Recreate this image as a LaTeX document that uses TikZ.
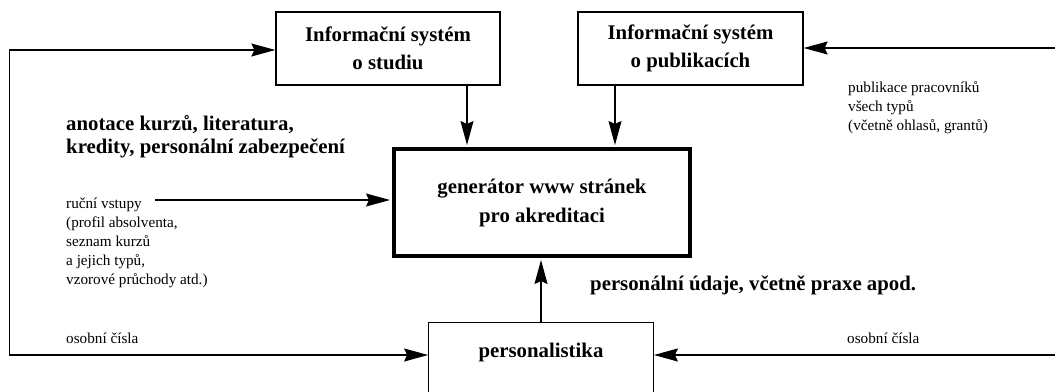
\documentclass[tikz,border=0pt]{standalone}
\usepackage{fontspec}
\setmainfont{Liberation Serif}
\usetikzlibrary{arrows.meta}
\begin{document}
\begin{tikzpicture}[x=1pt,y=-1pt,
  box/.style={draw,line width=1.3pt,minimum width=#1,align=center,inner sep=0pt},
  boxtxt/.style={font=\fontsize{20.8}{28}\selectfont\bfseries},
  bigtxt/.style={font=\fontsize{20.8}{23}\selectfont\bfseries,align=left,anchor=west,inner sep=0pt},
  smalltxt/.style={font=\fontsize{15.2}{18.9}\selectfont,align=left,anchor=west,inner sep=0pt},
  conn/.style={line width=1.3pt,-{Stealth[length=24pt,width=13pt,inset=3pt]}}]
\clip (0,0) rectangle (1055,391);
\fill[white] (0,0) rectangle (1055,391);
% boxes
\node[box=224pt,minimum height=73pt,boxtxt] (ss) at (388,48.5) {Informační systém\\o studiu};
\node[box=225pt,minimum height=73pt,boxtxt] (sp) at (690.5,48.5) {Informační systém\\o publikacích};
\node[draw,line width=4pt,minimum width=296pt,minimum height=107pt,align=center,inner sep=0pt,font=\fontsize{20.8}{29}\selectfont\bfseries] (gen) at (542,202.5) {generátor www stránek\\pro akreditaci};
\node[box=224.5pt,minimum height=130pt,anchor=north] (per) at (541,322) {};
\node[boxtxt,inner sep=0pt] (pertxt) at (541,352) {personalistika};
% free ends
\coordinate (lt) at (9.6,50);
\coordinate (lb) at (9.6,355);
\coordinate (rt) at (1056,48);
\coordinate (rb) at (1056,355);
\coordinate (rv) at (155,200);
% connectors
\draw[conn] (lb) -- (lt) -- (ss.west |- lt);
\draw[conn] (lt) -- (lb) -- (per.west |- lb);
\draw[conn] (rt) -- (sp.east |- rt);
\draw[conn] (rb) -- (per.east |- rb);
\draw[conn] (467,85) coordinate (a1) -- ([yshift=2pt]a1 |- gen.north);
\draw[conn] (615,85) coordinate (a2) -- ([yshift=2pt]a2 |- gen.north);
\draw[conn] (per.north) -- ([yshift=-2pt]per.north |- gen.south);
\draw[conn] (rv) -- ([xshift=-2pt]gen.west |- rv);
% labels
\node[bigtxt] (l1) at (66,137) {anotace kurzů, literatura,\\kredity, personální zabezpečení};
\node[bigtxt] (l2) at (590,285) {personální údaje, včetně praxe apod.};
\node[smalltxt] (l3) at (66,243) {ruční vstupy\\(profil absolventa,\\seznam kurzů\\a jejich typů,\\vzorové průchody atd.)};
\node[smalltxt] (l4) at (848,108) {publikace pracovníků\\všech typů\\(včetně ohlasů, grantů)};
\node[smalltxt] (l5) at (66,338) {osobní čísla};
\node[smalltxt] (l6) at (847,338) {osobní čísla};
\end{tikzpicture}
\end{document}
